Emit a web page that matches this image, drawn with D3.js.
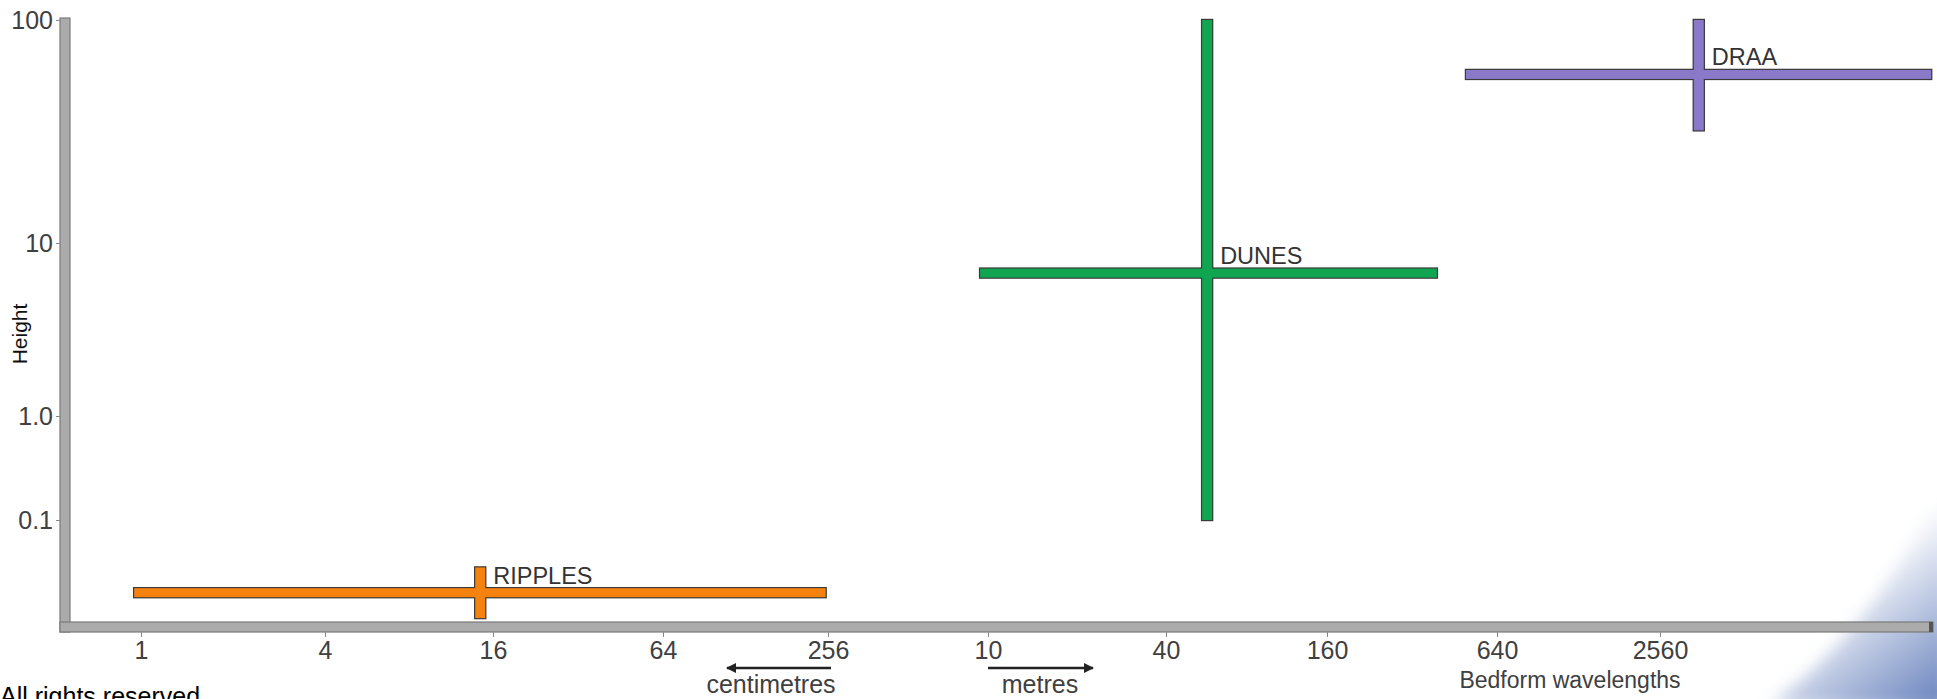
<!DOCTYPE html>
<html>
<head>
<meta charset="utf-8">
<script src="https://cdn.jsdelivr.net/npm/d3@7"></script>
<style>
  html, body { margin: 0; padding: 0; background: #fff; overflow: hidden; }
  svg { display: block; font-family: "Liberation Sans", Arial, sans-serif; }
</style>
</head>
<body>
<div id="chart"></div>
<script>
// bedform classes: wavelength in metres, height in metres
const forms = ["RIPPLES", "DUNES", "DRAA"];
const wavelengthMin = [0.0095, 9.35, 497];
const wavelengthMax = [2.51, 392, 25700];
const wavelengthMid = [0.144, 57, 3560];
const heightMin = [0.0114, 0.1, 32];
const heightMax = [0.035, 100, 100];
const heightMid = [0.02, 6.7, 57];
const formColors = ["#f5820f", "#10a550", "#8a78c8"];

const xTickValues = [0.01, 0.04, 0.16, 0.64, 2.56, 10, 40, 160, 640, 2560];
const xTickLabels = ["1", "4", "16", "64", "256", "10", "40", "160", "640", "2560"];
const yTickValues = [0.1, 1, 10, 100];
const yTickLabels = ["0.1", "1.0", "10", "100"];

const width = 1937, height = 699;

const svg = d3.select("#chart").append("svg")
    .attr("width", width)
    .attr("height", height);

// corner swoosh
const defs = svg.append("defs");
const grad = defs.append("linearGradient")
    .attr("id", "swoosh")
    .attr("gradientUnits", "userSpaceOnUse")
    .attr("x1", 1845).attr("y1", 575).attr("x2", 1940).attr("y2", 699);
grad.append("stop").attr("offset", "0").attr("stop-color", "#ffffff");
grad.append("stop").attr("offset", "1").attr("stop-color", "#6d86bf");
defs.append("filter").attr("id", "soft")
    .append("feGaussianBlur").attr("stdDeviation", 8);
svg.append("path")
    .attr("d", "M1770,705 Q1880,625 1950,470 L1950,710 Z")
    .attr("fill", "url(#swoosh)")
    .attr("filter", "url(#soft)");

// both axes are stretched piecewise between their ticks, as in the original
const x = d3.scaleLog()
    .domain(xTickValues)
    .range([141, 325, 493, 663, 828, 988, 1166, 1327, 1497, 1660]);
const y = d3.scaleLog().domain([0.1, 1, 10, 100]).range([520, 416, 243, 20]);

// grey L-shaped frame
const axisFill = "#ababab", axisStroke = "#7a7a7a";
svg.append("rect")
    .attr("x", 60).attr("y", 18).attr("width", 10).attr("height", 614)
    .attr("fill", axisFill).attr("stroke", axisStroke).attr("stroke-width", 1.2);
svg.append("rect")
    .attr("x", 60).attr("y", 622).attr("width", 1873).attr("height", 10)
    .attr("fill", axisFill).attr("stroke", axisStroke).attr("stroke-width", 1.2);
svg.append("rect")
    .attr("x", 1929).attr("y", 622).attr("width", 4).attr("height", 10)
    .attr("fill", "#555");
svg.append("rect")
    .attr("x", 61).attr("y", 623).attr("width", 8).attr("height", 8)
    .attr("fill", axisFill);

const xAxis = d3.axisBottom(x)
    .tickValues(xTickValues)
    .tickFormat((d, i) => xTickLabels[i])
    .tickSize(5)
    .tickPadding(4);

const yAxis = d3.axisLeft(y)
    .tickValues(yTickValues)
    .tickFormat((d, i) => yTickLabels[i])
    .tickSize(4)
    .tickPadding(3);

const gx = svg.append("g")
    .attr("class", "x axis")
    .attr("transform", "translate(0, 632)")
    .call(xAxis);

const gy = svg.append("g")
    .attr("class", "y axis")
    .attr("transform", "translate(60, 0)")
    .call(yAxis);

[gx, gy].forEach(g => {
    g.select(".domain").remove();
    g.selectAll(".tick line").attr("stroke", "#888");
    g.selectAll(".tick text")
        .attr("fill", "#404040")
        .style("font-size", "25px")
        .style("font-family", "'Liberation Sans', Arial, sans-serif");
});

// crosses: outline pass then fill pass so the crossing is clean
const barT = 9;
const idx = d3.range(forms.length);
const layers = [
    { fill: "none", stroke: "#3a3a3a", sw: 2.4 },
    { fill: null, stroke: "none", sw: 0 }
];
layers.forEach(l => {
    const g = svg.append("g");
    g.selectAll("rect.h")
        .data(idx)
        .enter().append("rect")
        .attr("class", "h")
        .attr("x", i => x(wavelengthMin[i]))
        .attr("y", i => y(heightMid[i]) - barT / 2)
        .attr("width", i => x(wavelengthMax[i]) - x(wavelengthMin[i]))
        .attr("height", barT)
        .attr("fill", i => l.fill || formColors[i])
        .attr("stroke", l.stroke)
        .attr("stroke-width", l.sw);
    g.selectAll("rect.v")
        .data(idx)
        .enter().append("rect")
        .attr("class", "v")
        .attr("x", i => x(wavelengthMid[i]) - 5)
        .attr("y", i => y(heightMax[i]))
        .attr("width", 10)
        .attr("height", i => y(heightMin[i]) - y(heightMax[i]))
        .attr("fill", i => l.fill || formColors[i])
        .attr("stroke", l.stroke)
        .attr("stroke-width", l.sw);
});

svg.append("g").selectAll("text")
    .data(idx)
    .enter().append("text")
    .attr("x", i => x(wavelengthMid[i]) + 13)
    .attr("y", i => y(heightMid[i]) - 9)
    .attr("fill", "#333")
    .style("font-size", "23.5px")
    .text(i => forms[i]);

// axis titles
svg.append("text")
    .attr("transform", "translate(27, 334) rotate(-90)")
    .attr("text-anchor", "middle")
    .attr("fill", "#111")
    .style("font-size", "21px")
    .text("Height");

svg.append("text")
    .attr("x", 1570).attr("y", 688)
    .attr("text-anchor", "middle")
    .attr("fill", "#404040")
    .style("font-size", "23px")
    .text("Bedform wavelengths");

// unit arrows
const arrowHead = defs.append("marker")
    .attr("id", "arrow")
    .attr("viewBox", "0 0 10 10")
    .attr("refX", 9).attr("refY", 5)
    .attr("markerWidth", 4).attr("markerHeight", 4)
    .attr("orient", "auto");
arrowHead.append("path").attr("d", "M0,0 L10,5 L0,10 Z").attr("fill", "#222");

svg.append("line")
    .attr("x1", 831).attr("y1", 668).attr("x2", 727).attr("y2", 668)
    .attr("stroke", "#222").attr("stroke-width", 2.5)
    .attr("marker-end", "url(#arrow)");
svg.append("text")
    .attr("x", 771).attr("y", 693)
    .attr("text-anchor", "middle")
    .attr("fill", "#404040")
    .style("font-size", "25px")
    .text("centimetres");

svg.append("line")
    .attr("x1", 988).attr("y1", 668).attr("x2", 1093).attr("y2", 668)
    .attr("stroke", "#222").attr("stroke-width", 2.5)
    .attr("marker-end", "url(#arrow)");
svg.append("text")
    .attr("x", 1040).attr("y", 693)
    .attr("text-anchor", "middle")
    .attr("fill", "#404040")
    .style("font-size", "25px")
    .text("metres");

svg.append("text")
    .attr("x", 0).attr("y", 705)
    .attr("fill", "#000")
    .style("font-size", "25px")
    .text("All rights reserved");
</script>
</body>
</html>
